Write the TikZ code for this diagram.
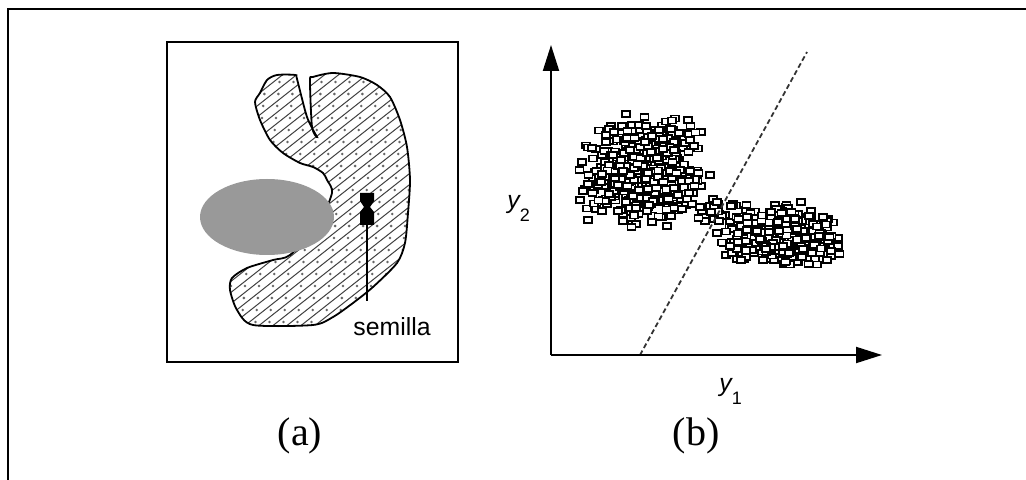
\documentclass[tikz,border=0pt]{standalone}
\usepackage{fontspec}
\setmainfont{Liberation Serif}
\setsansfont{Liberation Sans}
\usetikzlibrary{arrows.meta}
\begin{document}
\begin{tikzpicture}[x=0.5pt,y=-0.5pt,
  frameline/.style={line width=1.1pt,black},
  boxline/.style={line width=1pt,black},
  hatch/.style={line width=0.5pt,black!75},
  dotc/.style={black!60},
  outline/.style={line width=0.9pt,black},
  axis/.style={line width=1pt,black,-{Triangle[length=13pt,width=8pt]}},
  sep/.style={line width=0.9pt,black!80,dash pattern=on 2.5pt off 1.5pt},
  pt/.style={line width=0.9pt,black,fill=white},
  lbl/.style={font=\sffamily\fontsize{12.4}{14}\selectfont},
  captxt/.style={font=\rmfamily\fontsize{20}{24}\selectfont,anchor=base}
]
\useasboundingbox (0,0) rectangle (1026,480);
% outer frame
\draw[frameline] (8,480) -- (8,9) -- (1026,9);
% ---------- panel (a)
\draw[boxline] (167,42) rectangle (458,362);
\begin{scope}
\clip plot[smooth cycle,tension=0.45] coordinates {(253,325) (237,310) (230,290) (232,278) (247,268) (273,260) (290,255) (318,225) (332,193) (327,180) (323,173) (313,167) (300,163) (283,153) (270,140) (260,120) (255,102) (260,93) (267,80) (277,75) (295,75) (297,79) (307,117) (317,137) (312,127) (310,81) (313,77) (333,73) (360,77) (377,85) (390,97) (400,120) (407,147) (410,180) (408,213) (405,243) (397,263) (373,287) (353,303) (333,317) (313,325)};
\foreach \c in {-150,-136,...,430}{
  \draw[hatch] (\c,350) -- ++(380,-300);
  \foreach \t in {4,16,...,300}{
    \fill[dotc] (\c+1.267*\t+6,350-\t) circle[radius=0.7pt];
  }
}
\end{scope}
\draw[outline] plot[smooth cycle,tension=0.45] coordinates {(253,325) (237,310) (230,290) (232,278) (247,268) (273,260) (290,255) (318,225) (332,193) (327,180) (323,173) (313,167) (300,163) (283,153) (270,140) (260,120) (255,102) (260,93) (267,80) (277,75) (295,75) (297,79) (307,117) (317,137) (312,127) (310,81) (313,77) (333,73) (360,77) (377,85) (390,97) (400,120) (407,147) (410,180) (408,213) (405,243) (397,263) (373,287) (353,303) (333,317) (313,325)};
% gray region
\fill[black!40] (267,217) ellipse[x radius=67,y radius=38];
% seed
\fill[black] (360,193) -- (374,193) -- (374,201) -- (370,207) -- (374,212) -- (374,225) -- (360,225) -- (360,212) -- (364,207) -- (360,201) -- cycle;
\coordinate (seed) at (367,225);
\node[lbl] (sem) at (392,327) {semilla};
\draw[line width=1pt] (seed) -- ([yshift=5pt]seed |- sem.north);
% ---------- panel (b)
\coordinate (O) at (551,355);
\coordinate (ytip) at (551,45);
\coordinate (xtip) at (882,355);
\coordinate (dA) at (640,355);
\coordinate (dB) at (807,52);
\pgfmathsetseed{11}
\foreach \i in {1,...,620}{
  \pgfmathsetmacro\xx{643+25*(rand+rand+rand)}
  \pgfmathsetmacro\yy{172+22*(rand+rand+rand)}
  \draw[pt] (\xx-4,\yy-3) rectangle ++(8,6);
}
\foreach \i in {1,...,22}{
  \pgfmathsetmacro\xx{718+12*(rand+rand)}
  \pgfmathsetmacro\yy{212+8*(rand+rand)}
  \draw[pt] (\xx-4,\yy-3) rectangle ++(8,6);
}
\foreach \i in {1,...,440}{
  \pgfmathsetmacro\xx{780+24*(rand+rand+rand)}
  \pgfmathsetmacro\yy{235+13*(rand+rand+rand)}
  \draw[pt] (\xx-4,\yy-3) rectangle ++(8,6);
}
\draw[sep] (dA) -- (dB);
\draw[axis] (O) -- (ytip);
\draw[axis] (O) -- (xtip);
\node[lbl,anchor=base west,inner sep=0pt] (y2) at (507,208.5) {\itshape y\raisebox{-6.5pt}{\upshape\fontsize{9}{10}\selectfont 2}};
\node[lbl,anchor=base west,inner sep=0pt] (y1) at (719,391.5) {\itshape y\raisebox{-6.5pt}{\upshape\fontsize{9}{10}\selectfont 1}};
% captions
\node[captxt] (capa) at (300,445) {(a)};
\node[captxt] (capb) at (696,445) {(b)};
\end{tikzpicture}
\end{document}
